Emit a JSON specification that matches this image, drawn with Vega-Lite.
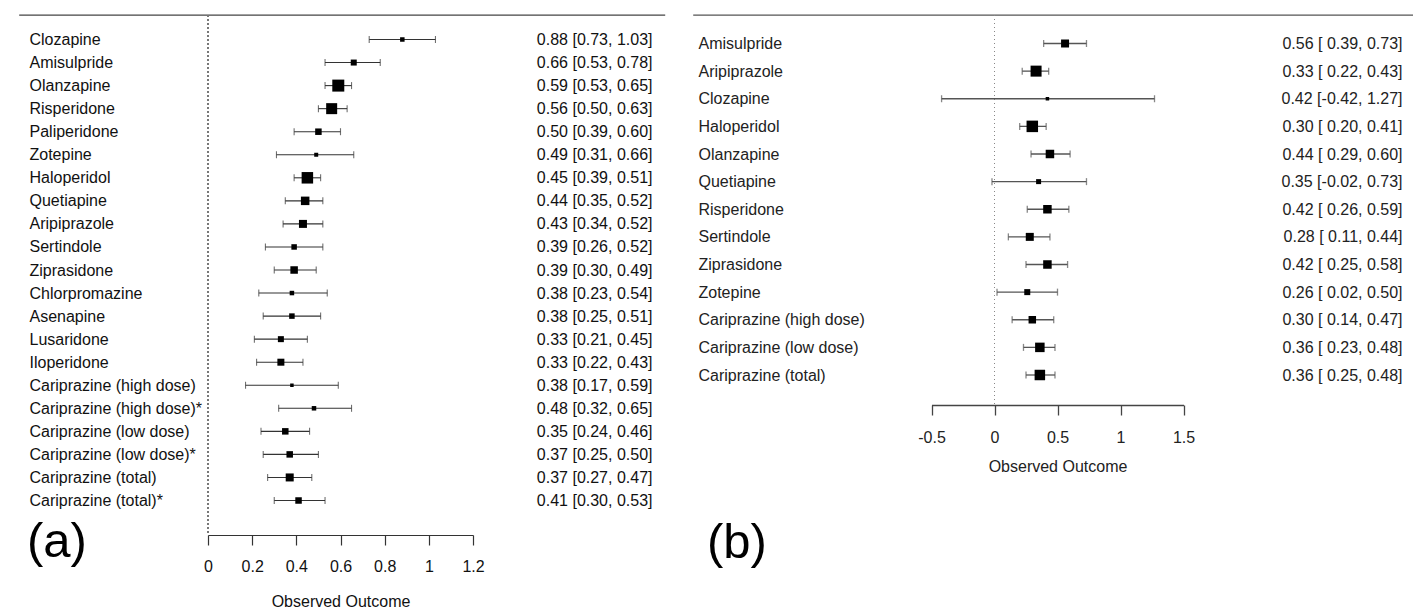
{
  "$schema": "https://vega.github.io/schema/vega-lite/v6.json",
  "padding": {"left": 18, "top": 13, "right": 0, "bottom": 0},
  "spacing": 26,
  "config": {"font": "Liberation Sans", "view": {"stroke": null}, "axis": {"grid": false}},
  "datasets": {
    "a": [
      {"drug": "Clozapine", "est": 0.88, "lb": 0.73, "ub": 1.03, "ci": "0.88 [0.73, 1.03]", "weight": 4.5},
      {"drug": "Amisulpride", "est": 0.66, "lb": 0.53, "ub": 0.78, "ci": "0.66 [0.53, 0.78]", "weight": 6},
      {"drug": "Olanzapine", "est": 0.59, "lb": 0.53, "ub": 0.65, "ci": "0.59 [0.53, 0.65]", "weight": 12},
      {"drug": "Risperidone", "est": 0.56, "lb": 0.50, "ub": 0.63, "ci": "0.56 [0.50, 0.63]", "weight": 11},
      {"drug": "Paliperidone", "est": 0.50, "lb": 0.39, "ub": 0.60, "ci": "0.50 [0.39, 0.60]", "weight": 6.5},
      {"drug": "Zotepine", "est": 0.49, "lb": 0.31, "ub": 0.66, "ci": "0.49 [0.31, 0.66]", "weight": 4},
      {"drug": "Haloperidol", "est": 0.45, "lb": 0.39, "ub": 0.51, "ci": "0.45 [0.39, 0.51]", "weight": 11.5},
      {"drug": "Quetiapine", "est": 0.44, "lb": 0.35, "ub": 0.52, "ci": "0.44 [0.35, 0.52]", "weight": 8.5},
      {"drug": "Aripiprazole", "est": 0.43, "lb": 0.34, "ub": 0.52, "ci": "0.43 [0.34, 0.52]", "weight": 8},
      {"drug": "Sertindole", "est": 0.39, "lb": 0.26, "ub": 0.52, "ci": "0.39 [0.26, 0.52]", "weight": 5.5},
      {"drug": "Ziprasidone", "est": 0.39, "lb": 0.30, "ub": 0.49, "ci": "0.39 [0.30, 0.49]", "weight": 7.5},
      {"drug": "Chlorpromazine", "est": 0.38, "lb": 0.23, "ub": 0.54, "ci": "0.38 [0.23, 0.54]", "weight": 4.5},
      {"drug": "Asenapine", "est": 0.38, "lb": 0.25, "ub": 0.51, "ci": "0.38 [0.25, 0.51]", "weight": 5.5},
      {"drug": "Lusaridone", "est": 0.33, "lb": 0.21, "ub": 0.45, "ci": "0.33 [0.21, 0.45]", "weight": 6},
      {"drug": "Iloperidone", "est": 0.33, "lb": 0.22, "ub": 0.43, "ci": "0.33 [0.22, 0.43]", "weight": 7},
      {"drug": "Cariprazine (high dose)", "est": 0.38, "lb": 0.17, "ub": 0.59, "ci": "0.38 [0.17, 0.59]", "weight": 3.5},
      {"drug": "Cariprazine (high dose)*", "est": 0.48, "lb": 0.32, "ub": 0.65, "ci": "0.48 [0.32, 0.65]", "weight": 4.5},
      {"drug": "Cariprazine (low dose)", "est": 0.35, "lb": 0.24, "ub": 0.46, "ci": "0.35 [0.24, 0.46]", "weight": 6.5},
      {"drug": "Cariprazine (low dose)*", "est": 0.37, "lb": 0.25, "ub": 0.50, "ci": "0.37 [0.25, 0.50]", "weight": 6.5},
      {"drug": "Cariprazine (total)", "est": 0.37, "lb": 0.27, "ub": 0.47, "ci": "0.37 [0.27, 0.47]", "weight": 8},
      {"drug": "Cariprazine (total)*", "est": 0.41, "lb": 0.30, "ub": 0.53, "ci": "0.41 [0.30, 0.53]", "weight": 6.5}
    ],
    "b": [
      {"drug": "Amisulpride", "est": 0.56, "lb": 0.39, "ub": 0.73, "ci": "0.56 [ 0.39, 0.73]", "weight": 8},
      {"drug": "Aripiprazole", "est": 0.33, "lb": 0.22, "ub": 0.43, "ci": "0.33 [ 0.22, 0.43]", "weight": 11},
      {"drug": "Clozapine", "est": 0.42, "lb": -0.42, "ub": 1.27, "ci": "0.42 [-0.42, 1.27]", "weight": 3.5},
      {"drug": "Haloperidol", "est": 0.30, "lb": 0.20, "ub": 0.41, "ci": "0.30 [ 0.20, 0.41]", "weight": 11.5},
      {"drug": "Olanzapine", "est": 0.44, "lb": 0.29, "ub": 0.60, "ci": "0.44 [ 0.29, 0.60]", "weight": 8.5},
      {"drug": "Quetiapine", "est": 0.35, "lb": -0.02, "ub": 0.73, "ci": "0.35 [-0.02, 0.73]", "weight": 5},
      {"drug": "Risperidone", "est": 0.42, "lb": 0.26, "ub": 0.59, "ci": "0.42 [ 0.26, 0.59]", "weight": 8.5},
      {"drug": "Sertindole", "est": 0.28, "lb": 0.11, "ub": 0.44, "ci": "0.28 [ 0.11, 0.44]", "weight": 8},
      {"drug": "Ziprasidone", "est": 0.42, "lb": 0.25, "ub": 0.58, "ci": "0.42 [ 0.25, 0.58]", "weight": 8.5},
      {"drug": "Zotepine", "est": 0.26, "lb": 0.02, "ub": 0.50, "ci": "0.26 [ 0.02, 0.50]", "weight": 6},
      {"drug": "Cariprazine (high dose)", "est": 0.30, "lb": 0.14, "ub": 0.47, "ci": "0.30 [ 0.14, 0.47]", "weight": 7.5},
      {"drug": "Cariprazine (low dose)", "est": 0.36, "lb": 0.23, "ub": 0.48, "ci": "0.36 [ 0.23, 0.48]", "weight": 9.5},
      {"drug": "Cariprazine (total)", "est": 0.36, "lb": 0.25, "ub": 0.48, "ci": "0.36 [ 0.25, 0.48]", "weight": 10.5}
    ]
  },
  "hconcat": [
    {
      "data": {"name": "a"},
      "width": 646,
      "height": 520,
      "view": {"stroke": "#444", "strokeWidth": 1.3, "strokeDash": [646, 4000]},
      "title": {"text": "(a)", "orient": "bottom", "anchor": "start", "frame": "group", "fontSize": 49, "fontWeight": "normal", "color": "#000", "baseline": "alphabetic", "offset": 0, "dx": 8, "dy": -52},
      "resolve": {"scale": {"y": "independent"}, "axis": {"y": "independent"}},
      "layer": [
        {
          "mark": {"type": "rule", "strokeDash": [1.5, 2.5], "color": "#777", "strokeWidth": 1.3},
          "encoding": {"x": {"datum": 0, "type": "quantitative", "title": "Observed Outcome", "scale": {"domain": [0, 1.2], "range": [189, 454], "nice": false, "zero": false}}}
        },
        {
          "mark": {"type": "rule", "color": "#333", "strokeWidth": 1.1},
          "encoding": {
            "x": {"field": "lb", "type": "quantitative", "title": "Observed Outcome",
              "scale": {"domain": [0, 1.2], "range": [189, 454], "nice": false, "zero": false},
              "axis": {"values": [0, 0.2, 0.4, 0.6, 0.8, 1, 1.2], "labelExpr": "toString(datum.value)", "domainColor": "#333", "domainWidth": 1.2, "tickColor": "#333", "tickWidth": 1.2, "tickSize": 10, "labelFontSize": 16, "labelColor": "#111", "labelPadding": 13, "titleFontSize": 16, "titleFontWeight": "normal", "titleColor": "#111", "titlePadding": 19, "labelFlush": false, "labelOverlap": false, "grid": false}},
            "x2": {"field": "ub"},
            "y": {"field": "drug", "type": "nominal", "sort": null, "scale": {"type": "point", "range": [24.5, 485.5], "padding": 0},
              "axis": {"orient": "left", "title": null, "domain": false, "ticks": false, "tickSize": 0, "labelPadding": -10, "labelAlign": "left", "labelFontSize": 16, "labelColor": "#111", "labelLimit": 500, "labelOverlap": false}}
          }
        },
        {
          "mark": {"type": "tick", "color": "#333", "thickness": 1.1, "size": 7},
          "encoding": {
            "x": {"field": "lb", "type": "quantitative", "title": "Observed Outcome", "scale": {"domain": [0, 1.2], "range": [189, 454], "nice": false, "zero": false}},
            "y": {"field": "drug", "type": "nominal", "sort": null, "scale": {"type": "point", "range": [24.5, 485.5], "padding": 0}, "axis": null}
          }
        },
        {
          "mark": {"type": "tick", "color": "#333", "thickness": 1.1, "size": 7},
          "encoding": {
            "x": {"field": "ub", "type": "quantitative", "title": "Observed Outcome", "scale": {"domain": [0, 1.2], "range": [189, 454], "nice": false, "zero": false}},
            "y": {"field": "drug", "type": "nominal", "sort": null, "scale": {"type": "point", "range": [24.5, 485.5], "padding": 0}, "axis": null}
          }
        },
        {
          "mark": {"type": "point", "shape": "square", "filled": true, "color": "#000", "opacity": 1},
          "encoding": {
            "x": {"field": "est", "type": "quantitative", "title": "Observed Outcome", "scale": {"domain": [0, 1.2], "range": [189, 454], "nice": false, "zero": false}},
            "y": {"field": "ci", "type": "nominal", "sort": null, "scale": {"type": "point", "range": [24.5, 485.5], "padding": 0},
              "axis": {"orient": "right", "title": null, "domain": false, "ticks": false, "tickSize": 0, "labelPadding": -13, "labelAlign": "right", "labelFontSize": 16, "labelColor": "#111", "labelLimit": 500, "labelOverlap": false}},
            "size": {"field": "weight", "type": "quantitative", "scale": {"type": "pow", "exponent": 2, "domain": [0, 12], "range": [0, 144]}, "legend": null}
          }
        }
      ]
    },
    {
      "data": {"name": "b"},
      "width": 723,
      "height": 390,
      "view": {"stroke": "#555", "strokeWidth": 1.3, "strokeDash": [723, 4000]},
      "title": {"text": "(b)", "orient": "bottom", "anchor": "start", "frame": "group", "fontSize": 49, "fontWeight": "normal", "color": "#000", "baseline": "alphabetic", "offset": 0, "dx": 14, "dy": 84},
      "resolve": {"scale": {"y": "independent"}, "axis": {"y": "independent"}},
      "layer": [
        {
          "mark": {"type": "rule", "strokeDash": [1, 3], "color": "#888", "strokeWidth": 1},
          "encoding": {"x": {"datum": 0, "type": "quantitative", "title": "Observed Outcome", "scale": {"domain": [-0.5, 1.5], "range": [238.5, 490.5], "nice": false, "zero": false}}}
        },
        {
          "mark": {"type": "rule", "color": "#555", "strokeWidth": 1.3},
          "encoding": {
            "x": {"field": "lb", "type": "quantitative", "title": "Observed Outcome",
              "scale": {"domain": [-0.5, 1.5], "range": [238.5, 490.5], "nice": false, "zero": false},
              "axis": {"values": [-0.5, 0, 0.5, 1, 1.5], "labelExpr": "toString(datum.value)", "domainColor": "#444", "domainWidth": 1.3, "tickColor": "#444", "tickWidth": 1.3, "tickSize": 10, "labelFontSize": 16, "labelColor": "#222", "labelPadding": 14, "titleFontSize": 16, "titleFontWeight": "normal", "titleColor": "#222", "titlePadding": 13, "labelFlush": false, "labelOverlap": false, "grid": false}},
            "x2": {"field": "ub"},
            "y": {"field": "drug", "type": "nominal", "sort": null, "scale": {"type": "point", "range": [28.5, 360], "padding": 0},
              "axis": {"orient": "left", "title": null, "domain": false, "ticks": false, "tickSize": 0, "labelPadding": -5, "labelAlign": "left", "labelFontSize": 16, "labelColor": "#222", "labelLimit": 500, "labelOverlap": false}}
          }
        },
        {
          "mark": {"type": "tick", "color": "#555", "thickness": 1.3, "size": 7},
          "encoding": {
            "x": {"field": "lb", "type": "quantitative", "title": "Observed Outcome", "scale": {"domain": [-0.5, 1.5], "range": [238.5, 490.5], "nice": false, "zero": false}},
            "y": {"field": "drug", "type": "nominal", "sort": null, "scale": {"type": "point", "range": [28.5, 360], "padding": 0}, "axis": null}
          }
        },
        {
          "mark": {"type": "tick", "color": "#555", "thickness": 1.3, "size": 7},
          "encoding": {
            "x": {"field": "ub", "type": "quantitative", "title": "Observed Outcome", "scale": {"domain": [-0.5, 1.5], "range": [238.5, 490.5], "nice": false, "zero": false}},
            "y": {"field": "drug", "type": "nominal", "sort": null, "scale": {"type": "point", "range": [28.5, 360], "padding": 0}, "axis": null}
          }
        },
        {
          "mark": {"type": "point", "shape": "square", "filled": true, "color": "#000", "opacity": 1},
          "encoding": {
            "x": {"field": "est", "type": "quantitative", "title": "Observed Outcome", "scale": {"domain": [-0.5, 1.5], "range": [238.5, 490.5], "nice": false, "zero": false}},
            "y": {"field": "ci", "type": "nominal", "sort": null, "scale": {"type": "point", "range": [28.5, 360], "padding": 0},
              "axis": {"orient": "right", "title": null, "domain": false, "ticks": false, "tickSize": 0, "labelPadding": -14, "labelAlign": "right", "labelFontSize": 16, "labelColor": "#222", "labelLimit": 500, "labelOverlap": false}},
            "size": {"field": "weight", "type": "quantitative", "scale": {"type": "pow", "exponent": 2, "domain": [0, 12], "range": [0, 144]}, "legend": null}
          }
        }
      ]
    }
  ]
}
